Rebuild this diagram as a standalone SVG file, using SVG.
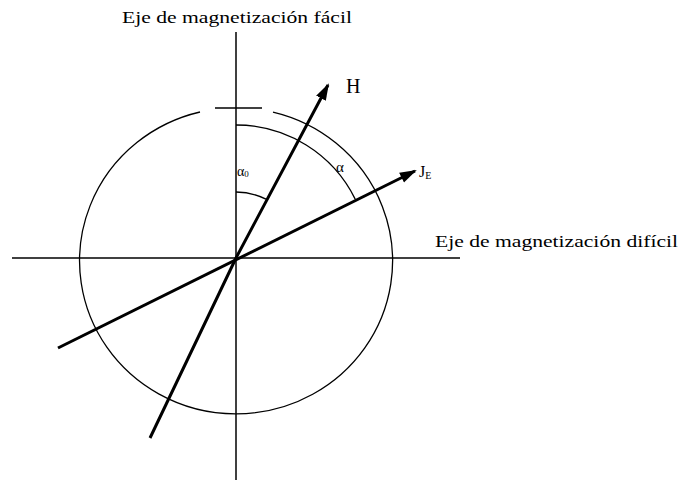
<svg xmlns="http://www.w3.org/2000/svg" width="684" height="485" viewBox="0 0 684 485">
<style>
.axis{stroke:#000;stroke-width:1.5;fill:none}
.thin{stroke:#000;stroke-width:1.3;fill:none}
.vec{stroke:#000;stroke-width:3;fill:none;stroke-linejoin:round}
.t{font-family:"Liberation Serif","Times New Roman",serif;fill:#000}
</style>
<defs>
<marker id="ah" markerUnits="userSpaceOnUse" markerWidth="18" markerHeight="12" refX="15" refY="6" orient="auto">
<path d="M0,0.5 L17,6 L0,11.5 z" fill="#000"/>
</marker>
</defs>
<rect width="684" height="485" fill="#fff"/>
<g id="axes">
<line class="axis" x1="236" y1="32" x2="236" y2="480"/>
<line class="axis" x1="12" y1="258" x2="460" y2="258"/>
</g>
<g id="circle">
<path class="thin" d="M200,112 A156.5 153 0 1 0 273,112.2"/>
<line class="thin" x1="215" y1="108" x2="262" y2="108"/>
</g>
<g id="angles">
<path class="thin" d="M236,125 A133 133 0 0 1 355.2,199.1"/>
<path class="thin" d="M236,192 A66 66 0 0 1 266,199.2"/>
</g>
<g id="connectors">
<path class="vec" d="M150,438 L236,258 L328,85" marker-end="url(#ah)"/>
<line class="vec" x1="58" y1="348" x2="415" y2="171" marker-end="url(#ah)"/>
</g>
<g id="labels">
<text class="t" x="122" y="23" font-size="17" textLength="230" lengthAdjust="spacingAndGlyphs">Eje de magnetización fácil</text>
<text class="t" x="435" y="247" font-size="17" textLength="243" lengthAdjust="spacingAndGlyphs">Eje de magnetización difícil</text>
<text class="t" x="346" y="93" font-size="20">H</text>
<text class="t" x="419" y="177" font-size="16">J<tspan font-size="10" dy="2">E</tspan></text>
<text class="t" x="336" y="172" font-size="15">α</text>
<text class="t" x="237" y="176" font-size="14">α<tspan font-size="9" dy="1">0</tspan></text>
</g>
</svg>
